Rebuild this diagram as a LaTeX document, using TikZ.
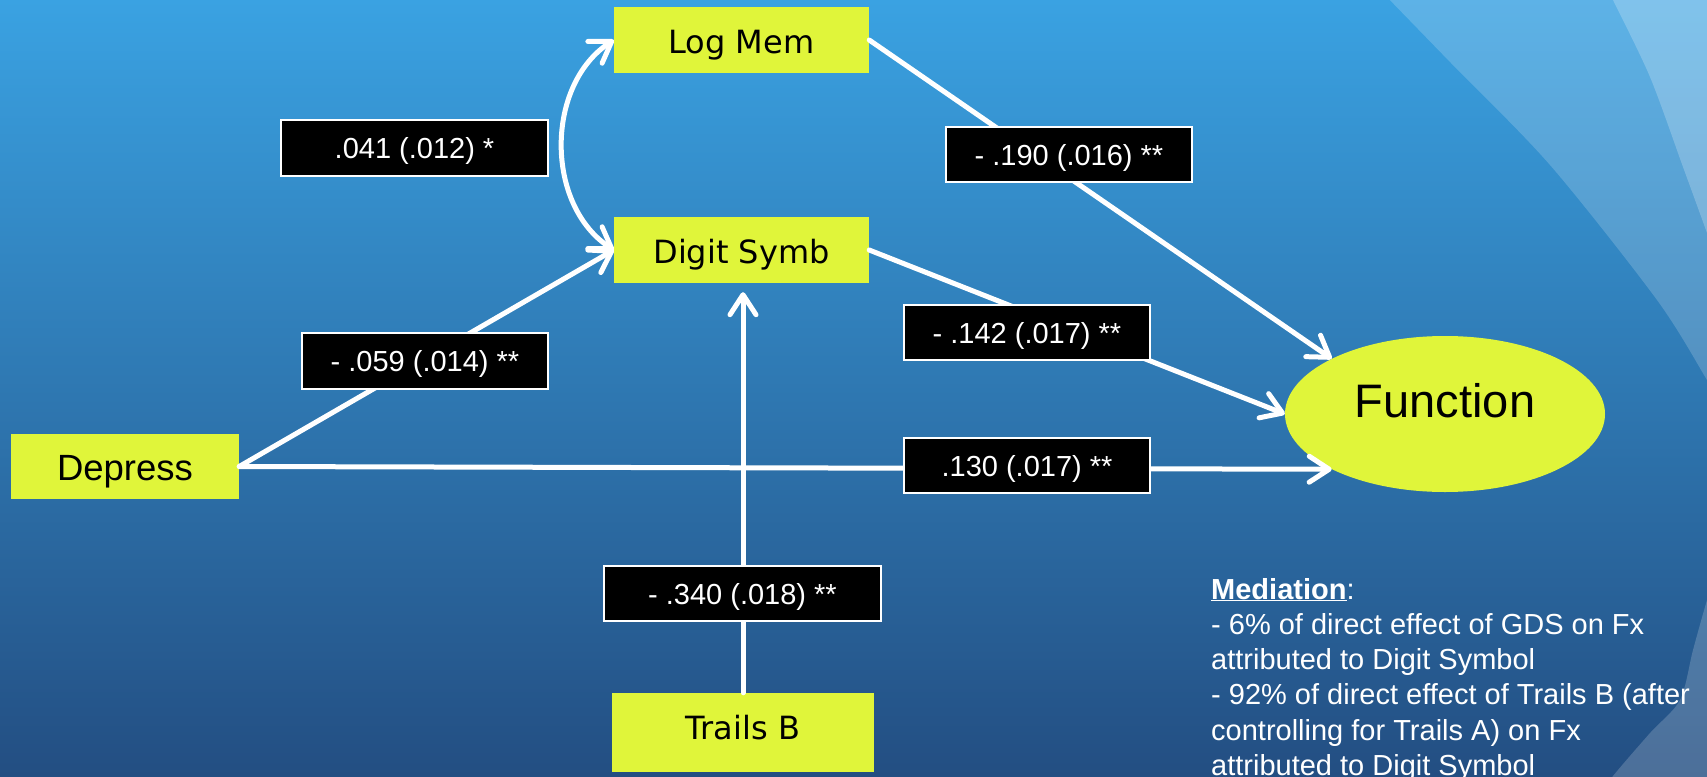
\documentclass[tikz,border=0pt]{standalone}
\usepackage{fontspec}
\setmainfont{Liberation Sans}
\newfontfamily\boxfont{DejaVu Sans}
\usetikzlibrary{arrows.meta,shapes.geometric}
\definecolor{boxyellow}{RGB}{224,245,58}
\definecolor{bgtop}{RGB}{58,162,226}
\definecolor{bgmid}{RGB}{45,122,182}
\definecolor{bgbot}{RGB}{35,78,130}
\tikzset{
  barb/.tip={Straight Barb[length=20pt,width=26pt,round]},
  conn/.style={draw=white, line width=5pt, line cap=round},
  varbox/.style={rectangle, fill=boxyellow, inner sep=0pt, text=black, text depth=0pt},
  lab/.style={rectangle, fill=black, draw=white, line width=1.5pt, inner sep=0pt, text=white, text height=21pt, text depth=0pt, font=\fontsize{29}{34}\selectfont},
  medtext/.style={anchor=base west, inner sep=0pt, text=white, font=\fontsize{29}{35}\selectfont},
}
\begin{document}
\begin{tikzpicture}[x=1pt,y=-1pt]
\useasboundingbox (0,0) rectangle (1707,776);
% background
\shade[top color=bgtop, middle color=bgmid, bottom color=bgbot] (0,0) rectangle (1707,776);
\fill[white, opacity=0.18] plot[smooth] coordinates {(1385,-5) (1450,62) (1550,165) (1657,300) (1707,380) (1730,420)} -- (1730,-5) -- cycle;
\fill[white, opacity=0.22] plot[smooth] coordinates {(1611,-5) (1613,0) (1650,77) (1683,167) (1707,233) (1720,270)} -- (1730,-5) -- cycle;
\fill[white, opacity=0.19] plot[smooth] coordinates {(1605,790) (1613,776) (1650,733) (1680,700) (1693,650) (1707,600) (1720,560)} -- (1730,790) -- cycle;

% variable nodes
\node[varbox, minimum width=255pt, minimum height=66pt, text height=26pt, font=\boxfont\fontsize{32}{38}\selectfont] (lm) at (741.5,40) {Log Mem};
\node[varbox, minimum width=255pt, minimum height=66pt, text height=26pt, font=\boxfont\fontsize{32}{38}\selectfont] (ds) at (741.5,250) {Digit Symb};
\node[varbox, minimum width=228pt, minimum height=65pt, text height=27pt, font=\fontsize{36.5}{42}\selectfont] (dep) at (125,466.5) {Depress};
\node[varbox, minimum width=262pt, minimum height=79pt, text height=13pt, font=\boxfont\fontsize{32}{38}\selectfont] (tb) at (743,732.5) {Trails B};
\node[ellipse, fill=boxyellow, inner sep=0pt, minimum width=320pt, minimum height=156pt, text height=7pt, text depth=0pt, font=\fontsize{47}{54}\selectfont] (fn) at (1445,414) {Function};

% connectors
\draw[conn, barb-barb] (lm.west) .. controls (545,85) and (545,205) .. (ds.west);
\draw[conn, -barb] (dep.east) -- (ds.west);
\draw[conn, -barb] (dep.east) -- (fn.206);
\draw[conn, -barb] (lm.east) -- (fn.154);
\draw[conn, -barb] (ds.east) -- (fn.west);
\draw[conn, -barb, shorten >=9pt] (tb.north) -- (tb.north |- ds.south);

% coefficient labels
\node[lab, minimum width=267pt, minimum height=56pt] (l1) at (414.5,148) {.041 (.012) *};
\node[lab, minimum width=246pt, minimum height=55pt] (l2) at (1069,154.5) {- .190 (.016) **};
\node[lab, minimum width=246pt, minimum height=55pt] (l3) at (1027,332.5) {- .142 (.017) **};
\node[lab, minimum width=246pt, minimum height=55pt] (l4) at (1027,465.5) {.130 (.017) **};
\node[lab, minimum width=246pt, minimum height=56pt] (l5) at (425,361) {- .059 (.014) **};
\node[lab, minimum width=277pt, minimum height=55pt] (l6) at (742.5,593.5) {- .340 (.018) **};

% mediation text
\node[medtext] (m1) at (1211,599) {\underline{\textbf{Mediation}}:};
\node[medtext] (m2) at (1211,634) {- 6\% of direct effect of GDS on Fx};
\node[medtext] (m3) at (1211,669.5) {attributed to Digit Symbol};
\node[medtext] (m4) at (1211,704.5) {- 92\% of direct effect of Trails B (after};
\node[medtext] (m5) at (1211,740) {controlling for Trails A) on Fx};
\node[medtext] (m6) at (1211,775) {attributed to Digit Symbol};
\end{tikzpicture}
\end{document}
